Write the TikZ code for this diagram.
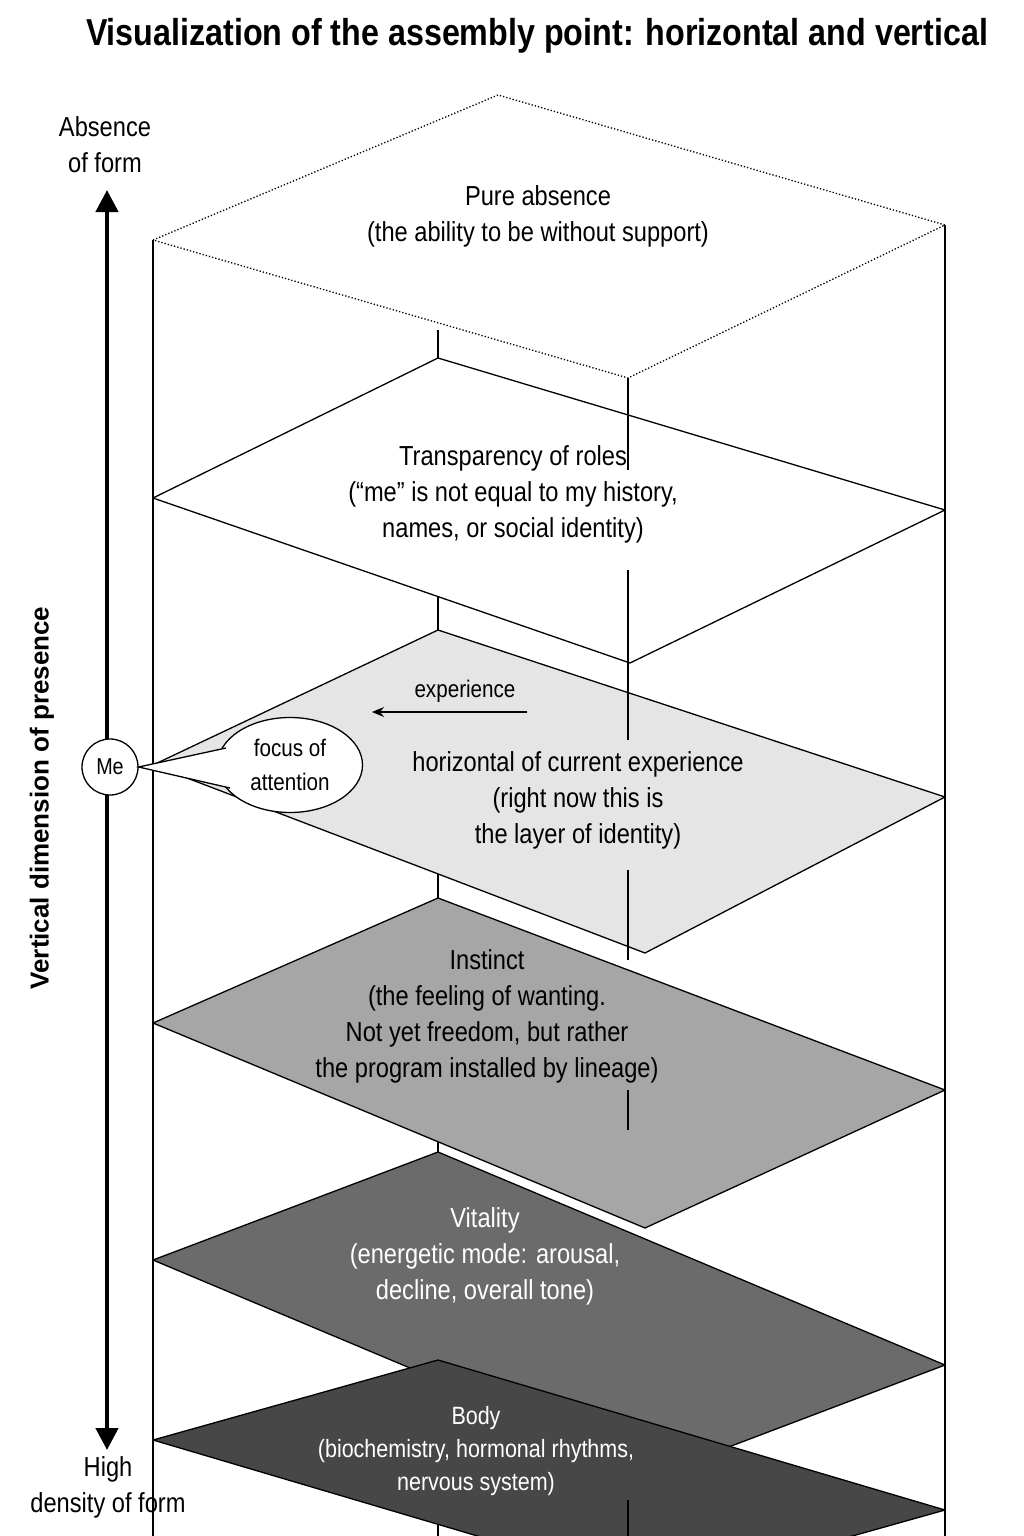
\documentclass[tikz,border=0pt]{standalone}
\usepackage{fontspec}
\setmainfont{Liberation Sans}[FakeStretch=0.86]
\newfontfamily\wide{Liberation Sans}
\usetikzlibrary{arrows.meta,shapes.geometric}
\begin{document}
\begin{tikzpicture}[x=1pt,y=-1pt,
  plane/.style={draw=black,line width=1.3pt,line join=round},
  lbl/.style={align=center,font=\fontsize{27.5}{36}\selectfont},
  edge/.style={line width=1.3pt}]
\useasboundingbox (0,0) rectangle (1024,1536);
\fill[white] (0,0) rectangle (1024,1536);
\node[font=\bfseries\fontsize{37.5}{44}\selectfont] (title) at (537,36) {Visualization of the assembly point: horizontal and vertical};
% verticals
\coordinate (bl0) at (438,330); \coordinate (bl1) at (438,1536);
\draw[edge] (bl0) -- (bl1);
\coordinate (L0) at (153,240); \coordinate (L1) at (153,1536);
\coordinate (R0) at (945,225); \coordinate (R1) at (945,1536);
\draw[edge] (L0)--(L1); \draw[edge] (R0)--(R1);
% planes
\draw[plane,dotted,fill=white] (153,240) -- (498,95) -- (945,225) -- (628,378) -- cycle;
\draw[plane,fill=white] (153,498) -- (438,358) -- (945,510) -- (630,663) -- cycle;
\draw[plane,fill=black!10] (153,765) -- (438,630) -- (945,797) -- (645,953) -- cycle;
\draw[plane,fill=black!35] (153,1023) -- (438,898) -- (945,1090) -- (645,1228) -- cycle;
\draw[plane,fill=black!58] (153,1260) -- (438,1152) -- (945,1365) -- (660,1473) -- cycle;
\draw[plane,fill=black!72] (153,1440) -- (438,1360) -- (945,1510) -- (660,1590) -- cycle;
% front vertical segments
\foreach \a/\b in {378/470,570/740,870/960,1090/1130,1500/1536}
  \draw[edge] (628,\a) -- (628,\b);
% texts
\node[lbl] (t1) at (538,216) {Pure absence\\(the ability to be without support)};
\node[lbl] (t2) at (513,494) {Transparency of roles\\(“me” is not equal to my history,\\names, or social identity)};
\node[lbl] (t3) at (578,800) {horizontal of current experience\\(right now this is\\the layer of identity)};
\node[lbl] (t4) at (487,1016) {Instinct\\(the feeling of wanting.\\Not yet freedom, but rather\\the program installed by lineage)};
\node[lbl,white] (t5) at (485,1256) {Vitality\\(energetic mode: arousal,\\decline, overall tone)};
\node[lbl,white,font=\fontsize{25}{33}\selectfont] (t6) at (476,1451) {Body\\(biochemistry, hormonal rhythms,\\nervous system)};
% experience arrow
\coordinate (ea) at (527,712); \coordinate (eb) at (372,712);
\draw[edge,-{Stealth[length=12pt,width=10pt]}] (ea) -- (eb);
\node[lbl,font=\fontsize{24}{26}\selectfont] (exp) at (465,691) {experience};
% axis
\coordinate (ax0) at (107,190); \coordinate (ax1) at (107,1450);
\draw[line width=4.5pt,{Triangle[length=22pt,width=22pt]}-{Triangle[length=22pt,width=22pt]}] (ax0) -- (ax1);
\node[lbl] (top) at (105,145) {Absence\\of form};
\node[lbl] (bot) at (108,1487) {High\\density of form};
\node[font=\wide\bfseries\fontsize{26}{30}\selectfont,rotate=90] (vd) at (42,798) {Vertical dimension of presence};
% callout
\node[ellipse,draw,line width=1.3pt,fill=white,minimum width=145pt,minimum height=95pt] (foc) at (290,765) {};
\node[lbl,font=\fontsize{24}{34}\selectfont] (foct) at (290,765) {focus of\\attention};
\node[circle,draw,line width=1.3pt,fill=white,minimum size=56pt,inner sep=0pt,font=\fontsize{23}{24}\selectfont] (me) at (110,767) {Me};
\coordinate (p1) at (226,748); \coordinate (p2) at (230,788);
\fill[white] (me.east) -- (p1) -- (p2) -- cycle;
\draw[edge] (p1) -- (me.east) -- (p2);
\end{tikzpicture}
\end{document}
